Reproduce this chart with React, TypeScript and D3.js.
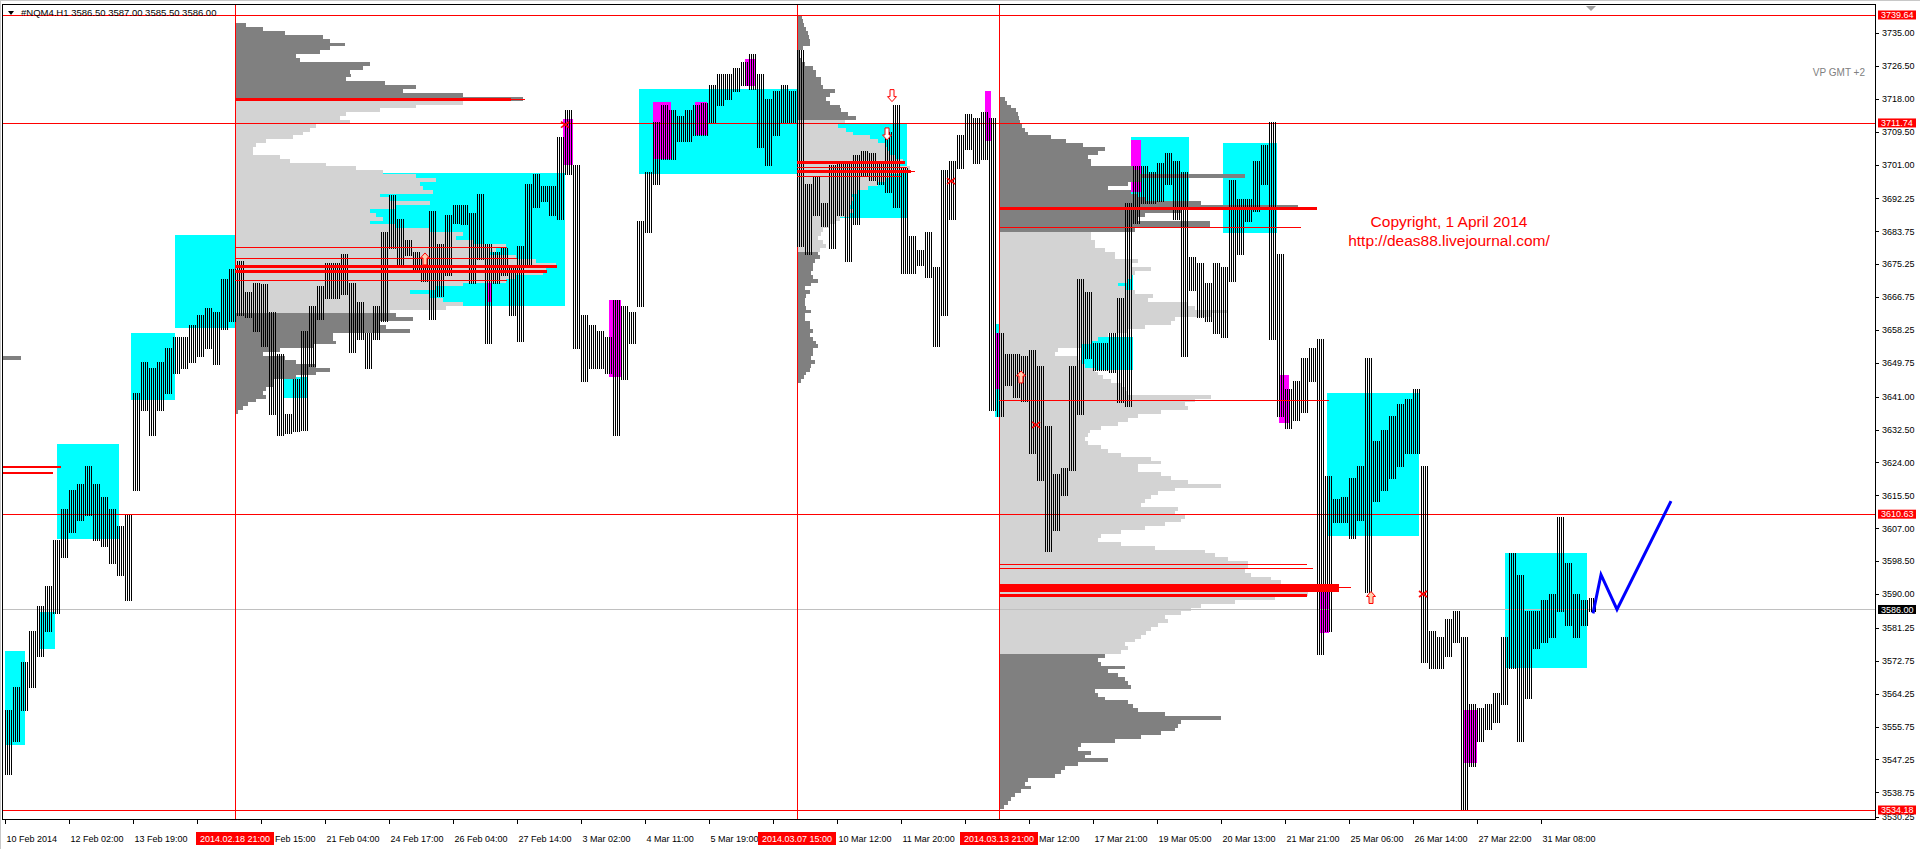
import React from 'react';
import * as d3 from 'd3';

// ---------------- DATA ----------------
// H1 bars grouped in clusters of 4 consecutive bars: high / low of each cluster
const BARS_PER_CLUSTER = 4;
const clusterHigh = [
  3560, 3566, 3572.5, 3580.5, 3587, 3592, 3604, 3612, 3617, 3618.5,
  3623, 3618.5, 3615, 3612, 3607.5, 3610.5, 3642, 3650, 3648.5, 3650,
  3653.5, 3656.5, 3656.5, 3659.5, 3662, 3664, 3663, 3671.5, 3674, 3676,
  3668, 3670.5, 3670, 3663, 3652, 3636.5, 3645.5, 3658, 3664.5, 3669.5,
  3675.5, 3675.5, 3678, 3670.5, 3665.5, 3657.5, 3664.5, 3683.5, 3693, 3687,
  3681.5, 3678.5, 3676.5, 3689, 3680.5, 3688, 3690.5, 3690.5, 3688.5, 3693.5,
  3680.5, 3678.5, 3679.5, 3675, 3680, 3696, 3698.5, 3695.5, 3695.5, 3708,
  3715, 3701, 3662, 3659.5, 3658, 3656.5, 3666, 3664.5, 3663, 3686.5,
  3699, 3712, 3716.5, 3715, 3713.5, 3715, 3716.5, 3717, 3721.5, 3724.5,
  3724.5, 3726, 3727.5, 3729.5, 3724.5, 3718, 3720, 3721.5, 3720, 3730.5,
  3696, 3698, 3691, 3701, 3702, 3702, 3703.5, 3704.5, 3704, 3702,
  3709.5, 3716.5, 3700, 3682.5, 3679, 3683.5, 3674.5, 3699.5, 3702, 3708.5,
  3714, 3713, 3714.5, 3713, 3657.5, 3652, 3652, 3651.5, 3653, 3649,
  3633.5, 3621, 3622.5, 3649, 3671.5, 3668, 3655, 3655, 3657.5, 3666.5,
  3691, 3700.5, 3700.5, 3699, 3701.5, 3704, 3702, 3699, 3677, 3675.5,
  3670.5, 3675.5, 3674.5, 3697, 3692, 3692, 3702, 3706, 3712, 3678,
  3643, 3645, 3651, 3653.5, 3656, 3620.5, 3614.5, 3615, 3620, 3623,
  3651, 3629.5, 3632.5, 3636, 3639, 3640.5, 3643, 3623, 3580.5, 3579,
  3583.5, 3585.5, 3579, 3561.5, 3560.5, 3561.5, 3564.5, 3579, 3600.5, 3595,
  3585.5, 3585.5, 3588.5, 3590, 3610, 3598, 3590, 3588.5, 3589,
];
const clusterLow = [
  3543.5, 3552, 3560, 3566, 3574, 3580.5, 3585, 3599.5, 3606, 3609,
  3610.5, 3604, 3602.5, 3598, 3595, 3588.5, 3617, 3637.5, 3631, 3637.5,
  3642, 3647, 3648.5, 3650, 3651.5, 3653.5, 3649.5, 3658.5, 3660.5, 3662,
  3661.5, 3658, 3654, 3636.5, 3631, 3631.5, 3632, 3632.5, 3649, 3661,
  3666.5, 3666.5, 3667.5, 3652.5, 3656, 3648.5, 3656, 3660.5, 3679.5, 3675,
  3677.5, 3674, 3671, 3661, 3667, 3672.5, 3686, 3685.5, 3670.5, 3676.5,
  3655, 3670.5, 3672.5, 3662, 3655.5, 3675, 3690, 3691.5, 3688, 3687,
  3698.5, 3653.5, 3645, 3648.5, 3648.5, 3647, 3631, 3645.5, 3655, 3664.5,
  3683.5, 3696, 3702.5, 3702.5, 3707, 3707, 3708.5, 3708.5, 3712, 3716.5,
  3718, 3720, 3721.5, 3720.5, 3705.5, 3701, 3708.5, 3712, 3712, 3680,
  3678, 3688, 3685, 3679.5, 3688, 3676, 3685.5, 3698, 3697, 3696,
  3694, 3690, 3673, 3673, 3675, 3672, 3654, 3662, 3687, 3700,
  3705, 3701.5, 3702.5, 3637.5, 3636, 3644, 3641, 3640, 3626.5, 3619.5,
  3601, 3606.5, 3615.5, 3622, 3636.5, 3651, 3648, 3648, 3647.5, 3639.5,
  3638.5, 3686, 3691, 3691, 3691.5, 3696, 3687, 3651.5, 3668.5, 3661.5,
  3660.5, 3657.5, 3656.5, 3671, 3678, 3686.5, 3689, 3696, 3656, 3636,
  3633, 3635, 3637, 3645, 3574.5, 3580.5, 3608.5, 3608.5, 3604.5, 3609,
  3590.5, 3614, 3617, 3620, 3623, 3626.5, 3626.5, 3572.5, 3571, 3571,
  3574, 3577.5, 3534.5, 3545.5, 3552, 3555, 3557, 3561.5, 3571, 3552,
  3563, 3576, 3577.5, 3579, 3585.5, 3582, 3579, 3582, 3585.5,
];

// Volume profiles (one row per 1.00 point, from top price downwards)
const profile0Top = 3651;
const profile0Vol = [20];
const profile0VA = [0, 0];

const profile1Top = 3737;
const profile1Vol = [
  11, 28, 50, 88, 95, 110, 95, 85, 61, 65, 135, 128, 115, 116, 111, 150, 181, 168, 228, 288,
  228, 181, 145, 111, 105, 115, 81, 75, 68, 58, 31, 21, 18, 18, 45, 55, 91, 121, 148, 181,
  201, 185, 188, 198, 145, 155, 195, 161, 135, 141, 148, 135, 161, 195, 228, 221, 238, 271, 261, 255,
  281, 301, 321, 311, 308, 281, 271, 228, 201, 175, 195, 208, 228, 211, 155,
  161, 178, 145, 151, 175, 98, 98, 101, 78, 45, 28, 50, 61, 81, 95, 81, 61, 38, 38, 31, 28, 31, 21, 13, 8, 3,
];
const profile1VA = [3717, 3663];

const profile2Top = 3739;
const profile2Vol = [
  5, 6, 7, 9, 11, 12, 13, 13, 6, 3, 3, 4, 8, 16, 19, 19, 24, 24, 26, 38, 33, 29, 33, 43, 44, 51, 59,
  48, 41, 49, 56, 73, 81, 88, 91, 93, 98, 106, 103, 113, 103, 93, 89, 81, 71, 61, 54, 56, 54, 53, 56, 53, 43, 39, 33, 26, 24, 21, 26, 29, 23,
  21, 23, 18, 16, 16, 14, 16, 21, 14, 8, 13, 9, 8, 8, 9, 14, 8, 8, 13, 13, 16, 13, 16, 19, 21, 16, 16, 14, 18, 14, 13, 9, 7, 4,
];
const profile2VA = [3712, 3679];

const profile3Top = 3718;
const profile3Vol = [
  6, 8, 12, 17, 19, 20, 21, 23, 26, 29, 52, 67, 84, 106, 99, 89, 92, 92, 134, 141,
  246, 142, 129, 109, 132, 139, 146, 202, 299, 182, 146, 139, 211, 211, 136,
  92, 92, 96, 96, 106, 116, 116, 139, 132, 152, 136, 132, 129, 119, 126, 136, 154, 149, 189, 196,
  229, 212, 176, 172, 146, 129, 109, 99, 92, 82, 59, 56, 79, 82, 86, 96, 99, 104, 112, 122,
  126, 129, 212, 196, 186, 189, 162, 139, 129, 119, 102, 91, 89, 86, 89, 102, 109, 122, 152, 162,
  139, 139, 162, 172, 189, 222, 176, 159, 152, 146, 142, 179, 176, 186, 182, 166, 146, 122, 102, 99,
  122, 156, 206, 216, 229, 249, 249, 246, 252, 272, 282, 296, 296, 309, 276, 236, 202, 192, 182, 166,
  169, 159, 152, 147, 142, 136, 126, 129, 122,
  106, 99, 102, 126, 109, 119, 126, 129, 132, 96, 99, 106, 129, 134, 139, 166, 222, 182, 179, 176,
  162, 142, 116, 82, 79, 92, 86, 109, 79, 66, 62, 56, 29, 26, 32, 22, 16, 12, 9, 5,
];
const profile3VA = [3683, 3575];

const profileStartBars = [-2, 115, 396, 497];

// red level lines of the profiles: price, from bar, to bar, thickness
const levelPrice = [3717.8, 3717.8, 3679.6, 3676.7, 3674.7, 3673.3, 3671.0,
  3701.5, 3700.2, 3699.3, 3699.3, 3697.8,
  3689.7, 3684.7, 3640.0, 3597.7, 3596.6, 3591.6, 3591.6, 3589.5,
  3622.7, 3621.2];
const levelFrom = [115, 115, 115, 115, 115, 115, 115,
  396, 396, 396, 396, 396,
  497, 497, 497, 497, 497, 497, 497, 497,
  -2, -2];
const levelTo = [253, 260, 251, 256, 276, 271, 251,
  450, 451, 453, 455, 448,
  656, 648, 662, 651, 654, 667, 673, 651,
  28, 24];
const levelWidth = [3, 1, 1, 1, 3, 3, 1,
  3, 1, 3, 1, 1,
  3, 1, 1, 1, 1, 8, 1, 3,
  2, 2];

// cyan rectangles: from bar, to bar, high, low
const cyanFrom = [0, 17, 26, 63, 85, 139, 176, 317, 398, 563, 609, 538, 545, 495, 661, 750];
const cyanTo = [10, 25, 57, 85, 115, 151, 280, 396, 451, 592, 636, 564, 564, 497, 707, 791];
const cyanHigh = [3575.2, 3585.3, 3628.7, 3657.4, 3682.8, 3646.1, 3698.8, 3720.5, 3711.5, 3708.2, 3706.6, 3656.4, 3673, 3659.8, 3642, 3600.5];
const cyanLow = [3550.9, 3575.7, 3604.2, 3640.1, 3658.7, 3640.6, 3664.4, 3698.5, 3687.2, 3691, 3683.2, 3648, 3666.5, 3635.7, 3605, 3571];

// magenta rectangles
const magFrom = [279, 302, 324, 345, 370, 490, 495, 241, 563, 637, 657, 729];
const magTo = [284, 308, 333, 351, 375, 493, 497, 243, 568, 642, 662, 736];
const magHigh = [3712.8, 3666, 3717.2, 3717.2, 3728.3, 3720, 3657.4, 3672.7, 3707.4, 3646.5, 3592, 3560];
const magLow = [3700.9, 3646, 3702.4, 3708.6, 3721.3, 3707, 3643, 3665.5, 3693.8, 3634.2, 3580, 3546.3];

// signal markers
const upArrowBars = [210, 508, 683];
const upArrowPrices = [3676.6, 3646.1, 3589.1];
const downArrowBars = [443.5, 441];
const downArrowPrices = [3718.8, 3708.9];
const crossBars = [280, 473, 515.5, 709];
const crossPrices = [3711.3, 3696.7, 3633.7, 3590];

// projection (blue)
const projBars = [794, 798, 806, 833];
const projPrices = [3585, 3595, 3586, 3614];

// axes
const priceTicks = [3735.00, 3726.50, 3718.00, 3709.50, 3701.00, 3692.25, 3683.75, 3675.25, 3666.75,
  3658.25, 3649.75, 3641.00, 3632.50, 3624.00, 3615.50, 3607.00, 3598.50, 3590.00, 3581.25,
  3572.75, 3564.25, 3555.75, 3547.25, 3538.75, 3530.25];
const TIME_TICK_STEP = 32;
// visible part of each time label (leading day hidden under a red box where it is covered)
const timeTickLabels = ['10 Feb 2014', '12 Feb 02:00', '13 Feb 19:00', '', 'Feb 15:00', '21 Feb 04:00',
  '24 Feb 17:00', '26 Feb 04:00', '27 Feb 14:00', '3 Mar 02:00', '4 Mar 11:00', '5 Mar 19:00', '',
  '10 Mar 12:00', '11 Mar 20:00', '', 'Mar 12:00', '17 Mar 21:00', '19 Mar 05:00', '20 Mar 13:00',
  '21 Mar 21:00', '25 Mar 06:00', '26 Mar 14:00', '27 Mar 22:00', '31 Mar 08:00'];

const vLineBars = [115, 396, 497];
const vLineLabels = ['2014.02.18 21:00', '2014.03.07 15:00', '2014.03.13 21:00'];

const hLinePrices = [3739.64, 3711.74, 3610.63, 3586.00, 3534.18];
const hLineColors = ['#ff0000', '#ff0000', '#ff0000', '#c0c0c0', '#ff0000'];
const hLineLabelBg = ['#ff0000', '#ff0000', '#ff0000', '#000000', '#ff0000'];

const headerText = '#NQM4.H1  3586.50 3587.00 3585.50 3586.00';
const copyrightLines = ['Copyright, 1 April 2014', 'http://deas88.livejournal.com/'];
const vpLabel = 'VP GMT +2';

const FONT = "'Liberation Sans', Arial, sans-serif";

export default function App() {
  const W = 1920;
  const H = 849;
  const plotL = 2;
  const plotR = 1875;
  const plotT = 5;
  const plotB = 819;

  const x = d3.scaleLinear().domain([0, 935]).range([5, 1875]);
  const y = d3.scaleLinear().domain([3739.64, 3534.18]).range([15, 810]);
  const vol = d3.scaleLinear().domain([0, 100]).range([0, 100]);

  const profiles = [
    { top: profile0Top, vols: profile0Vol, va: profile0VA, bar: profileStartBars[0] },
    { top: profile1Top, vols: profile1Vol, va: profile1VA, bar: profileStartBars[1] },
    { top: profile2Top, vols: profile2Vol, va: profile2VA, bar: profileStartBars[2] },
    { top: profile3Top, vols: profile3Vol, va: profile3VA, bar: profileStartBars[3] },
  ];

  const crisp = (v: number) => Math.round(v) + 0.5;

  const barLines: JSX.Element[] = [];
  clusterHigh.forEach((hi, k) => {
    const lo = clusterLow[k];
    for (let b = 0; b < BARS_PER_CLUSTER; b++) {
      const i = k * BARS_PER_CLUSTER + b;
      const xx = crisp(x(i));
      barLines.push(
        <line key={`b${i}`} x1={xx} x2={xx} y1={Math.round(y(hi))} y2={Math.round(y(lo)) + 1} stroke="#000" strokeWidth={1} />
      );
    }
  });

  const projLine = d3.line<number>()
    .x((_, i) => x(projBars[i]))
    .y((_, i) => y(projPrices[i]))(projPrices);

  const upArrow = (cx: number, cy: number) =>
    `M${cx},${cy - 6} L${cx + 4.5},${cy - 1} L${cx + 2},${cy - 1} L${cx + 2},${cy + 6} L${cx - 2},${cy + 6} L${cx - 2},${cy - 1} L${cx - 4.5},${cy - 1} Z`;
  const downArrow = (cx: number, cy: number) =>
    `M${cx},${cy + 6} L${cx + 4.5},${cy + 1} L${cx + 2},${cy + 1} L${cx + 2},${cy - 6} L${cx - 2},${cy - 6} L${cx - 2},${cy + 1} L${cx - 4.5},${cy + 1} Z`;

  const axisLabelY = 842;
  const boxHalf = 39;
  const vBoxX = vLineBars.map((b) => x(b));

  return (
    <div style={{ position: 'absolute', left: 0, top: 0, width: W, height: H, background: '#fff' }}>
      <svg width={W} height={H} style={{ display: 'block' }} fontFamily={FONT}>
        <defs>
          <clipPath id="plotClip">
            <rect x={plotL} y={plotT} width={plotR - plotL} height={plotB - plotT} />
          </clipPath>
        </defs>
        <rect x={0} y={0} width={W} height={H} fill="#fff" />

        <g clipPath="url(#plotClip)">
          {cyanFrom.map((f, i) => (
            <rect key={`c${i}`} x={x(f)} y={y(cyanHigh[i])} width={x(cyanTo[i]) - x(f)}
              height={y(cyanLow[i]) - y(cyanHigh[i])} fill="#00ffff" shapeRendering="crispEdges" />
          ))}
          {magFrom.map((f, i) => (
            <rect key={`m${i}`} x={x(f)} y={y(magHigh[i])} width={x(magTo[i]) - x(f)}
              height={y(magLow[i]) - y(magHigh[i])} fill="#ff00ff" shapeRendering="crispEdges" />
          ))}
          {profiles.map((pr, pi) => (
            <g key={`p${pi}`} shapeRendering="crispEdges">
              {pr.vols.map((v, j) => {
                const p = pr.top - j;
                const inVA = p <= pr.va[0] && p >= pr.va[1];
                return (
                  <rect key={j} x={x(pr.bar)} y={y(p + 0.5)} width={vol(v)}
                    height={y(p - 0.5) - y(p + 0.5)} fill={inVA ? '#d3d3d3' : '#808080'} />
                );
              })}
            </g>
          ))}
          {hLinePrices.map((p, i) => (
            <line key={`h${i}`} x1={plotL} x2={plotR} y1={crisp(y(p))} y2={crisp(y(p))} stroke={hLineColors[i]} strokeWidth={1} />
          ))}
          {vLineBars.map((b, i) => (
            <line key={`v${i}`} x1={crisp(x(b))} x2={crisp(x(b))} y1={plotT} y2={plotB} stroke="#ff0000" strokeWidth={1} />
          ))}
          <g shapeRendering="crispEdges">{barLines}</g>
          {levelPrice.map((p, i) => (
            <rect key={`l${i}`} x={x(levelFrom[i])} y={y(p) - levelWidth[i] / 2} width={x(levelTo[i]) - x(levelFrom[i])}
              height={levelWidth[i]} fill="#ff0000" shapeRendering="crispEdges" />
          ))}
          {upArrowBars.map((b, i) => (
            <path key={`ua${i}`} d={upArrow(x(b), y(upArrowPrices[i]))} fill="#ffd0b0" stroke="#ff0000" strokeWidth={1} />
          ))}
          {downArrowBars.map((b, i) => (
            <path key={`da${i}`} d={downArrow(x(b), y(downArrowPrices[i]))} fill="#ffffff" stroke="#ff0000" strokeWidth={1} />
          ))}
          {crossBars.map((b, i) => {
            const cx = x(b);
            const cy = y(crossPrices[i]);
            return (
              <g key={`x${i}`} stroke="#ff0000" strokeWidth={1.6}>
                <line x1={cx - 4} y1={cy - 3} x2={cx + 4} y2={cy + 3} />
                <line x1={cx - 4} y1={cy + 3} x2={cx + 4} y2={cy - 3} />
              </g>
            );
          })}
          <path d={projLine || ''} fill="none" stroke="#0000ff" strokeWidth={3} strokeLinejoin="miter" />
          {copyrightLines.map((t, i) => (
            <text key={`cp${i}`} x={1449} y={227 + i * 19} textAnchor="middle" fill="#ff0000" fontSize={15.5}>{t}</text>
          ))}
          <text x={1865} y={76} textAnchor="end" fill="#808080" fontSize={10}>{vpLabel}</text>
        </g>

        <path d={`M${x(793) - 5},${plotT + 1} L${x(793) + 5},${plotT + 1} L${x(793)},${plotT + 6} Z`} fill="#a0a0a0" />

        <line x1={0} x2={W} y1={0.5} y2={0.5} stroke="#c8c8c8" />
        <line x1={0.5} x2={0.5} y1={0} y2={H} stroke="#c8c8c8" />
        <line x1={plotL} x2={plotR + 1} y1={4.5} y2={4.5} stroke="#000" />
        <line x1={plotL + 0.5} x2={plotL + 0.5} y1={4.5} y2={plotB + 0.5} stroke="#000" />
        <line x1={plotR + 0.5} x2={plotR + 0.5} y1={4.5} y2={plotB + 0.5} stroke="#000" />
        <line x1={plotL} x2={plotR + 1} y1={plotB + 0.5} y2={plotB + 0.5} stroke="#000" />

        <path d="M8,11 L14,11 L11,15 Z" fill="#000" />
        <text x={21} y={16} fontSize={9.5} fill="#000">{headerText}</text>

        {priceTicks.map((p, i) => {
          const yy = Math.min(y(p), 817);
          return (
            <g key={`pt${i}`}>
              <line x1={plotR + 1} x2={plotR + 4} y1={crisp(yy)} y2={crisp(yy)} stroke="#000" />
              <text x={1882} y={yy + 3.3} fontSize={9} fill="#000">{p.toFixed(2)}</text>
            </g>
          );
        })}
        {hLinePrices.map((p, i) => (
          <g key={`hl${i}`}>
            <rect x={1878} y={y(p) - 4.5} width={38} height={9} fill={hLineLabelBg[i]} />
            <text x={1881} y={y(p) + 3.3} fontSize={9} fill="#fff">{p.toFixed(2)}</text>
          </g>
        ))}

        {timeTickLabels.map((t, n) => {
          const xx = crisp(x(n * TIME_TICK_STEP));
          const covering = vBoxX.find((bx) => xx >= bx - boxHalf - 2 && xx <= bx + boxHalf);
          const tx = covering !== undefined ? covering + boxHalf + 1 : xx + 1;
          return (
            <g key={`tt${n}`}>
              <line x1={xx} x2={xx} y1={plotB + 1} y2={plotB + 5} stroke="#000" />
              {t ? <text x={tx} y={axisLabelY} fontSize={9} fill="#000">{t}</text> : null}
            </g>
          );
        })}
        {vLineBars.map((b, i) => (
          <g key={`vl${i}`}>
            <rect x={x(b) - boxHalf} y={axisLabelY - 10} width={boxHalf * 2} height={13} fill="#ff0000" />
            <text x={x(b)} y={axisLabelY} textAnchor="middle" fontSize={9} fill="#fff">{vLineLabels[i]}</text>
          </g>
        ))}
      </svg>
    </div>
  );
}
